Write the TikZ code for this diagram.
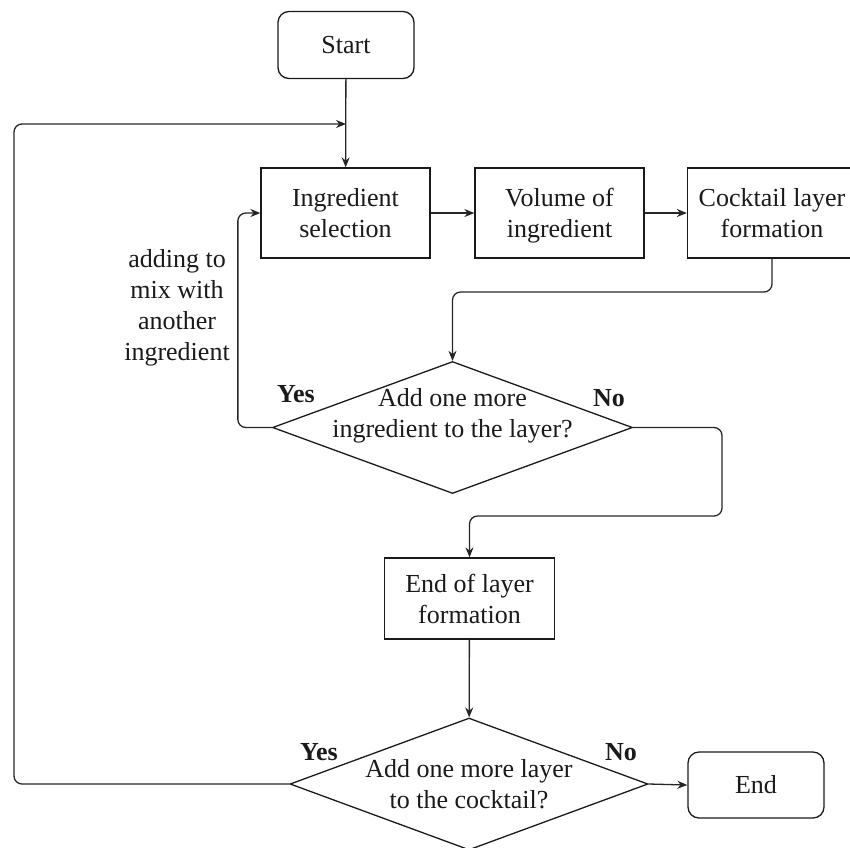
\documentclass[tikz,border=0pt]{standalone}
\usepackage{fontspec}
\setmainfont{Liberation Serif}
\usepackage{xcolor}
\definecolor{Line}{HTML}{262626}
\definecolor{Dark}{HTML}{1A1A1A}
\usepackage{tikz}
\usetikzlibrary{arrows.meta, positioning, shapes.geometric}
\newcommand\lstrut{\rule[-6.3pt]{0pt}{31pt}}
\tikzset{
  box/.style={
    rectangle, draw=Dark, line width=1.3pt,
    minimum width=#1, align=center,
    inner sep=2pt, font=\fontsize{26}{31}\selectfont, text=Dark
  },
  box/.default=169pt,
  rbox/.style={box=136pt, rounded corners=11pt, minimum height=66pt},
  dec/.style={
    diamond, draw=Dark, line width=1.3pt, inner sep=0pt,
    minimum width=#1, minimum height=132pt
  },
  dec/.default=360pt,
  qtext/.style={align=center, font=\fontsize{26}{31}\selectfont, text=Dark},
  lbl/.style={font=\fontsize{26}{31}\selectfont\bfseries, text=Dark},
  arr/.style={-{Stealth[length=10pt, width=8pt]}, line width=1.3pt, color=Line},
}

\begin{document}
\begin{tikzpicture}[x=1pt, y=-1pt]
\useasboundingbox (0,0) rectangle (850,847);

\node[rbox, minimum height=67pt] at (346,45) (start) {Start};

\node[box, minimum height=90pt] at (345.5,213) (sel) {\lstrut Ingredient\\selection\lstrut};
\node[box, minimum height=90pt] at (559.5,213) (vol) {\lstrut Volume of\\ingredient\lstrut};
\node[box, minimum height=90pt] at (772,213) (lay) {\lstrut Cocktail layer\\formation\lstrut};

\node[dec] at (452.5,427.5) (q1) {};
\node[qtext] at (452.5,413) (q1t) {\lstrut Add one more\\ingredient to the layer?\lstrut};

\node[box=170pt, minimum height=81pt] at (469.5,598.5) (eol) {\lstrut End of layer\\formation\lstrut};

\node[dec=358pt] at (469,784) (q2) {};
\node[qtext] at (469,784) (q2t) {\lstrut Add one more layer\\to the cocktail?\lstrut};

\node[rbox] at (756,785) (end) {End};

% Branch labels
\node[lbl] at (296,394) (y1) {Yes};
\node[lbl] at (609,398) (n1) {No};
\node[lbl] at (319,752) (y2) {Yes};
\node[lbl] at (621,752) (n2) {No};
\node[qtext] at (177,305) (mix) {\lstrut adding to\\mix with\\another\\ingredient\lstrut};

% Junction points
\coordinate (j1) at (0,292);
\coordinate (j2) at (722,516);
\coordinate (j3) at (14,124);

\draw[arr] (start) -- (sel);
\draw[arr] (sel) -- (vol);
\draw[arr] (vol) -- (lay);
\draw[arr, rounded corners=8pt] (lay.south) -- (lay.south |- j1) -- (q1.north |- j1) -- (q1.north);
\draw[arr, rounded corners=8pt] (q1.west) -- ++(-34,0) |- (sel.west);
\draw[arr, rounded corners=8pt] (q1.east) -| (j2) -| (eol.north);
\draw[arr] (eol) -- (q2);
\draw[arr] (q2.east) -- (end.west);
\draw[arr, rounded corners=8pt] (q2.west) -| (j3) -- (start.south |- j3);

\end{tikzpicture}
\end{document}
